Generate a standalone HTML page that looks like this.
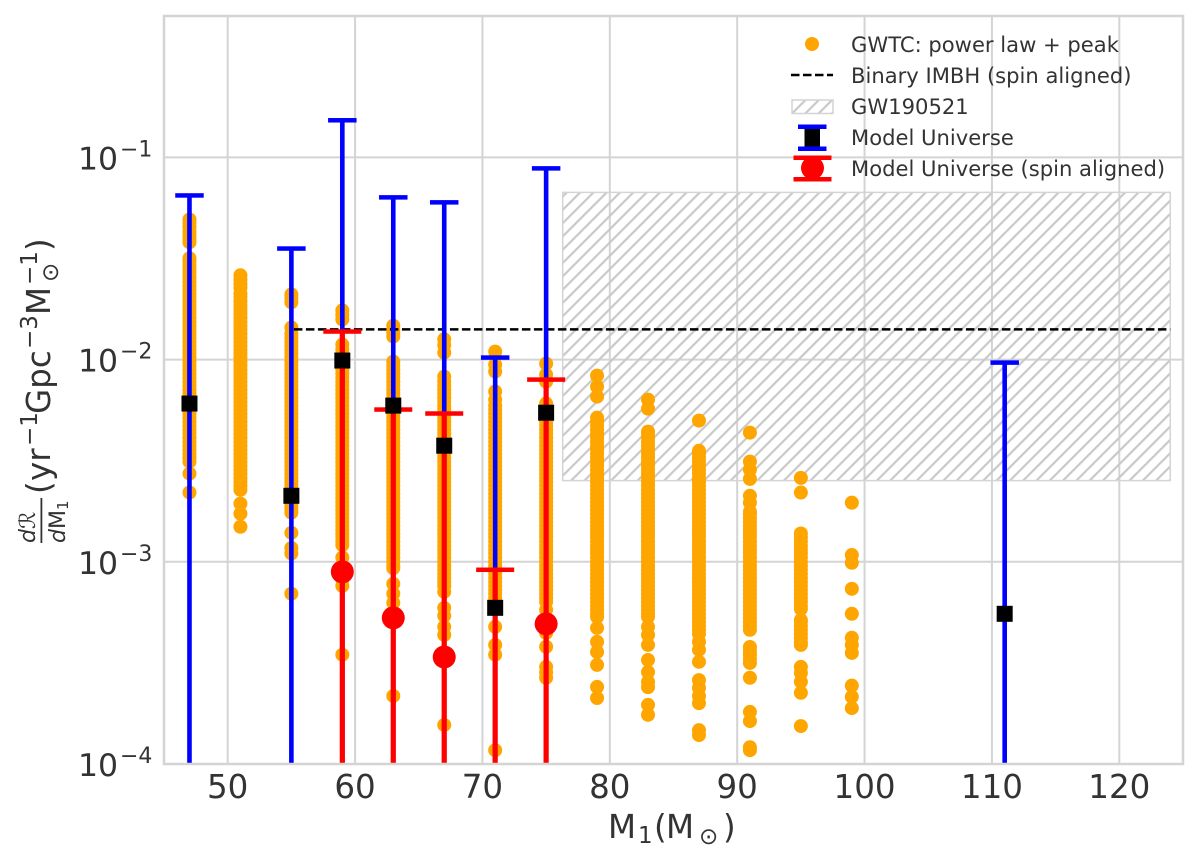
<!DOCTYPE html>
<html lang="en">
<head>
<meta charset="utf-8">
<title>Merger rate vs primary mass</title>
<style>
html,body{margin:0;padding:0;background:#fff;}
svg{display:block;}
text{font-family:"DejaVu Sans","Liberation Sans",sans-serif;fill:#333;}
</style>
</head>
<body>
<svg id="chart" xmlns="http://www.w3.org/2000/svg" width="1200" height="863" viewBox="0 0 1200 863">
  <defs>
    <pattern id="hatch" patternUnits="userSpaceOnUse" width="9.4" height="9.4" patternTransform="rotate(-45)">
      <rect x="0" y="0" width="9.4" height="2.2" fill="#c9c9c9"/>
    </pattern>
    <clipPath id="plot-clip"><rect x="164" y="16" width="1019" height="747"/></clipPath>
  </defs>
  <rect x="164" y="16" width="1019" height="748" fill="#fff"/>
  <g id="grid"></g>
  <g id="band"></g>
  <g id="scatter" clip-path="url(#plot-clip)"></g>
  <g id="imbh"></g>
  <g id="bars" clip-path="url(#plot-clip)"></g>
  <rect x="164" y="16" width="1019" height="748" fill="none" stroke="#d4d4d4" stroke-width="2.5"/>
  <g id="ticks"></g>

  <g>
    <text x="608" y="838" font-size="32.5">M</text>
    <text x="638" y="843" font-size="23">1</text>
    <text x="654" y="838" font-size="32.5">(</text>
    <text x="666" y="838" font-size="32.5">M</text>
    <text x="699" y="844" font-size="23">⊙</text>
    <text x="723" y="838" font-size="32.5">)</text>
  </g>

  <g transform="translate(50,0) rotate(-90)">
    <text x="-543" y="-15" font-size="22" font-style="italic">dℛ</text>
    <rect x="-543" y="-9.5" width="45" height="1.8" fill="#333"/>
    <text x="-543" y="15" font-size="22" font-style="italic">d<tspan font-style="normal">M</tspan></text>
    <text x="-510" y="18" font-size="15">1</text>
    <text x="-494" y="0" font-size="32.5">(</text>
    <text x="-481" y="0" font-size="32.5">yr</text>
    <text x="-446" y="-13" font-size="23">−1</text>
    <text x="-414" y="0" font-size="32.5">Gpc</text>
    <text x="-349" y="-13" font-size="23">−3</text>
    <text x="-315" y="0" font-size="32.5">M</text>
    <text x="-285" y="-13" font-size="23">−1</text>
    <text x="-282" y="8" font-size="23">⊙</text>
    <text x="-251" y="0" font-size="32.5">)</text>
  </g>

  <g>
    <g>
      <circle cx="812" cy="44" r="7" fill="#ffa500"/>
      <text x="851" y="52" font-size="21.1">GWTC: power law + peak</text>
    </g>
    <g>
      <line x1="791" x2="833" y1="75" y2="75" stroke="#000" stroke-width="2.5" stroke-dasharray="8.5 3.5"/>
      <text x="851" y="83" font-size="21.1">Binary IMBH (spin aligned)</text>
    </g>
    <g>
      <rect x="792" y="100" width="41" height="13.5" fill="url(#hatch)" stroke="#d4d4d4" stroke-width="1.5"/>
      <text x="851" y="114" font-size="21.1">GW190521</text>
    </g>
    <g>
      <rect x="804.5" y="126" width="15.5" height="22" fill="#000"/>
      <rect x="798" y="124.5" width="28.5" height="4.5" fill="#0000ff"/>
      <rect x="798" y="146.5" width="28.5" height="4.5" fill="#0000ff"/>
      <text x="851" y="145" font-size="21.1">Model Universe</text>
    </g>
    <g>
      <rect x="793.5" y="155.5" width="38" height="4.5" fill="#ff0000"/>
      <rect x="793.5" y="177" width="38" height="4.5" fill="#ff0000"/>
      <circle cx="812.5" cy="168" r="11.5" fill="#ff0000"/>
      <text x="851" y="176" font-size="21.1">Model Universe (spin aligned)</text>
    </g>
  </g>
</svg>

<script>
// ---- tick labels ----
const xTicks = [50, 60, 70, 80, 90, 100, 110, 120];
const yTicks = [0.1, 0.01, 0.001, 0.0001];
const yTickExponents = ["−1", "−2", "−3", "−4"];

// ---- axis limits ----
const xDomain = [45, 125];
const yDomain = [0.0001, 0.5];

// ---- GWTC power law + peak, rate samples per mass bin ----
const gwtcMasses = [47, 51, 55, 59, 63, 67, 71, 75, 79, 83, 87, 91, 95, 99];
const gwtc47 = [.0493,.0472,.0451,.043,.0411,.0395,.038,.0317,.0306,.0292,.0279,.0267,.0255,.0243,.0232,.0222,.0212,.0203,.0194,.0185,.0177,.0169,.0161,.0154,.0147,.0141,.01345,.01285,.01228,.01173,.01121,.0107,.01023,.00977,.00934,.00892,.00853,.00815,.00778,.00743,.0071,.00678,.00648,.00619,.00592,.00565,.0054,.00516,.00493,.00471,.0045,.0043,.00411,.00392,.00375,.00358,.00342,.00327,.00313,.00273,.0022];
const gwtc51 = [.0261,.0249,.0237,.0227,.0212,.0203,.0194,.0185,.0177,.0169,.0161,.0154,.0147,.0141,.01345,.01285,.01228,.01173,.01121,.0107,.01023,.00977,.00934,.00892,.00853,.00815,.00778,.00743,.0071,.00678,.00648,.00619,.00592,.00565,.0054,.00516,.00493,.00471,.0045,.0043,.00411,.00392,.00375,.00358,.00342,.00327,.00313,.00299,.00285,.00273,.0026,.00249,.00238,.00227,.00194,.00173,.00149];
const gwtc55 = [.021,.02,.0192,.0144,.01345,.01285,.01228,.01173,.01121,.0107,.01023,.00977,.00934,.00892,.00853,.00815,.00778,.00743,.0071,.00678,.00648,.00619,.00592,.00565,.0054,.00516,.00493,.00471,.0045,.0043,.00411,.00392,.00375,.00358,.00342,.00327,.00313,.00299,.00285,.00273,.0026,.00249,.00238,.00227,.00217,.00207,.00198,.00189,.00181,.00175,.00139,.00117,.0011,.000695];
const gwtc59 = [.0175,.0166,.0158,.01186,.01121,.0107,.01023,.00977,.00934,.00892,.00853,.00815,.00778,.00743,.0071,.00678,.00648,.00619,.00592,.00565,.0054,.00516,.00493,.00471,.0045,.0043,.00411,.00392,.00375,.00358,.00342,.00327,.00313,.00299,.00285,.00273,.0026,.00249,.00238,.00227,.00217,.00207,.00198,.00189,.00181,.00173,.00165,.00158,.00151,.00144,.00138,.00132,.00126,.00121,.00105,.000955,.000892,.000815,.00076,.000347];
const gwtc63 = [.0147,.014,.0135,.013,.00977,.00934,.00892,.00853,.00815,.00778,.00743,.0071,.00678,.00648,.00619,.00592,.00565,.0054,.00516,.00493,.00471,.0045,.0043,.00411,.00392,.00375,.00358,.00342,.00327,.00313,.00299,.00285,.00273,.0026,.00249,.00238,.00227,.00217,.00207,.00198,.00189,.00181,.00173,.00165,.00158,.00151,.00144,.00138,.00132,.00126,.0012,.00115,.0011,.00105,.001,.000955,.00093,.000778,.000695,.000627,.000566,.000217];
const gwtc67 = [.0126,.0118,.01083,.00824,.00778,.00743,.0071,.00678,.00648,.00619,.00592,.00565,.0054,.00516,.00493,.00471,.0045,.0043,.00411,.00392,.00375,.00358,.00342,.00327,.00313,.00299,.00285,.00273,.0026,.00249,.00238,.00227,.00217,.00207,.00198,.00189,.00181,.00173,.00165,.00158,.00151,.00144,.00138,.00132,.00126,.0012,.00115,.0011,.00105,.001,.000955,.000913,.000872,.000833,.000796,.00076,.00071,.000592,.000541,.000477,.000435,.000156];
const gwtc71 = [.01095,.00944,.00873,.00695,.00633,.00592,.00565,.0054,.00516,.00493,.00471,.0045,.0043,.00411,.00392,.00375,.00358,.00342,.00327,.00313,.00299,.00285,.00273,.0026,.00249,.00238,.00227,.00217,.00207,.00198,.00189,.00181,.00173,.00165,.00158,.00151,.00144,.00138,.00132,.00126,.0012,.00115,.0011,.00105,.001,.000955,.000913,.000872,.000833,.000796,.00076,.000727,.000695,.000663,.000634,.000613,.000477,.000388,.000347,.000117];
const gwtc75 = [.00955,.00843,.00778,.00606,.0054,.00516,.00493,.00471,.0045,.0043,.00411,.00392,.00375,.00358,.00342,.00327,.00313,.00299,.00285,.00273,.0026,.00249,.00238,.00227,.00217,.00207,.00198,.00189,.00181,.00173,.00165,.00158,.00151,.00144,.00138,.00132,.00126,.0012,.00115,.0011,.00105,.001,.000955,.000913,.000872,.000833,.000796,.00076,.000727,.000695,.000663,.000634,.000579,.000445,.00038,.000302,.000284,.000267];
const gwtc79 = [.00833,.00735,.00656,.00516,.00493,.00471,.0045,.0043,.00411,.00392,.00375,.00358,.00342,.00327,.00313,.00299,.00285,.00273,.0026,.00249,.00238,.00227,.00217,.00207,.00198,.00189,.00181,.00173,.00165,.00158,.00151,.00144,.00138,.00132,.00126,.0012,.00115,.0011,.00105,.001,.000955,.000913,.000872,.000833,.000796,.00076,.000727,.000695,.000663,.000634,.000606,.000579,.000553,.000534,.000471,.000402,.000358,.000309,.0002405,.000212];
const gwtc83 = [.00634,.00572,.0044,.0043,.00411,.00392,.00375,.00358,.00342,.00327,.00313,.00299,.00285,.00273,.0026,.00249,.00238,.00227,.00217,.00207,.00198,.00189,.00181,.00173,.00165,.00158,.00151,.00144,.00138,.00132,.00126,.0012,.00115,.0011,.00105,.001,.000955,.000913,.000872,.000833,.000796,.00076,.000727,.000695,.000663,.000634,.000606,.000579,.000553,.000534,.000477,.000435,.000388,.000327,.000285,.000255,.00024,.000196,.000175];
const gwtc87 = [.00499,.00354,.00342,.00327,.00313,.00299,.00285,.00273,.0026,.00249,.00238,.00227,.00217,.00207,.00198,.00189,.00181,.00173,.00165,.00158,.00151,.00144,.00138,.00132,.00126,.0012,.00115,.0011,.00105,.001,.000955,.000913,.000872,.000833,.000796,.00076,.000727,.000695,.000663,.000634,.000606,.000579,.000553,.000528,.000505,.000482,.000461,.00044,.000402,.000367,.00032,.00026,.000238,.000217,.0002,.000147,.000139];
const gwtc91 = [.00435,.00313,.00285,.00257,.00212,.00196,.00177,.00173,.00165,.00158,.00151,.00144,.00138,.00132,.00126,.0012,.00115,.0011,.00105,.001,.000955,.000913,.000872,.000833,.000796,.00076,.000727,.000695,.000663,.000634,.000606,.000579,.000553,.000528,.000505,.000482,.000461,.000379,.000362,.000347,.00033,.000316,.000267,.000181,.000163,.000121,.000117];
const gwtc95 = [.0026,.0022,.00138,.00132,.00126,.0012,.00115,.0011,.00105,.001,.000955,.000913,.000872,.000833,.000796,.00076,.000727,.000695,.000663,.000634,.000606,.000585,.000515,.000505,.000482,.000461,.00044,.00042,.0004,.000388,.000302,.000282,.000255,.000225,.000154];
const gwtc99 = [.00196,.00108,.000989,.000735,.000553,.000421,.000388,.000354,.000244,.000215,.000189];
const gwtcSeries = [gwtc47, gwtc51, gwtc55, gwtc59, gwtc63, gwtc67, gwtc71, gwtc75, gwtc79, gwtc83, gwtc87, gwtc91, gwtc95, gwtc99];

// ---- Model Universe ----
const modelMasses = [47, 55, 59, 63, 67, 71, 75, 111];
const modelRates = [.00606, .00212, .00989, .00592, .00375, .000592, .00546, .000553];
const modelUpper = [.0648, .0354, .1525, .0634, .0599, .01023, .0882, .00966];
const modelLower = [.00006, .00006, .00006, .00006, .00006, .00006, .00006, .00006];

// ---- Model Universe (spin aligned) ----
const spinMasses = [59, 63, 67, 71, 75];
const spinRates = [.000892, .000528, .000338, .00006, .000493];
const spinUpper = [.01376, .00566, .00541, .000913, .00796];
const spinLower = [.00006, .00006, .00006, .00006, .00006];

// ---- Binary IMBH and GW190521 ----
const imbhRate = [.0141];
const imbhMassRange = [55.2, 124];
const gw190521MassRange = [76.3, 124];
const gw190521RateRange = [.00252, .0671];

function xScale(m) {
  return 164 + (m - xDomain[0]) / (xDomain[1] - xDomain[0]) * 1019;
}
function yScale(v) {
  const lo = Math.log10(yDomain[0]);
  const hi = Math.log10(yDomain[1]);
  return 764 - (Math.log10(v) - lo) / (hi - lo) * 748;
}
function make(tag, attrs, parent) {
  const el = document.createElementNS('http://www.w3.org/2000/svg', tag);
  for (const k in attrs) el.setAttribute(k, attrs[k]);
  parent.appendChild(el);
  return el;
}

const gridG = document.getElementById('grid');
const bandG = document.getElementById('band');
const scatterG = document.getElementById('scatter');
const imbhG = document.getElementById('imbh');
const barsG = document.getElementById('bars');
const ticksG = document.getElementById('ticks');

xTicks.forEach(function (t) {
  const line = make('line', {x1: xScale(t), x2: xScale(t), y1: 16, y2: 764, stroke: '#d4d4d4', 'stroke-width': 2}, gridG);
  
  
  const label = make('text', {x: xScale(t), y: 798, 'font-size': 32.5, 'text-anchor': 'middle'}, ticksG);
  label.textContent = String(t);
  
  
});

yTicks.forEach(function (t, i) {
  const y = yScale(t);
  const line = make('line', {x1: 164, x2: 1183, y1: y, y2: y, stroke: '#d4d4d4', 'stroke-width': 2}, gridG);
  
  
  const base = make('text', {x: 78, y: y + 12, 'font-size': 31.5}, ticksG);
  base.textContent = '10';
  
  
  const sup = make('text', {x: 120, y: y - 1, 'font-size': 22}, ticksG);
  sup.textContent = yTickExponents[i];
  
  
});

const bx0 = xScale(gw190521MassRange[0]);
const bx1 = xScale(gw190521MassRange[1]);
const by0 = yScale(gw190521RateRange[1]);
const by1 = yScale(gw190521RateRange[0]);
const bandRect = make('rect', {x: bx0, y: by0, width: bx1 - bx0, height: by1 - by0, fill: 'url(#hatch)', stroke: '#d4d4d4', 'stroke-width': 1.5}, bandG);



gwtcSeries.forEach(function (series, i) {
  series.forEach(function (v) {
    const dot = make('circle', {cx: xScale(gwtcMasses[i]), cy: yScale(v), r: 7, fill: '#ffa500'}, scatterG);
    
    
  });
});

const imbhLine = make('line', {
  x1: xScale(imbhMassRange[0]), x2: xScale(imbhMassRange[1]),
  y1: yScale(imbhRate[0]), y2: yScale(imbhRate[0]),
  stroke: '#000', 'stroke-width': 2.5, 'stroke-dasharray': '8.5 3.5'
}, imbhG);



function errorBar(m, upper, lower, color, capW, stemW, name) {
  const x = xScale(m);
  const stem = make('line', {x1: x, x2: x, y1: yScale(upper), y2: yScale(lower), stroke: color, 'stroke-width': stemW}, barsG);
  
  
  const cap = make('rect', {x: x - capW / 2, y: yScale(upper) - 2.25, width: capW, height: 4.5, fill: color}, barsG);
  
  
}

modelMasses.forEach(function (m, i) {
  errorBar(m, modelUpper[i], modelLower[i], '#0000ff', 28.5, 4.6, 'model-universe');
});
spinMasses.forEach(function (m, i) {
  errorBar(m, spinUpper[i], spinLower[i], '#ff0000', 38, 5.2, 'spin-aligned');
});
spinMasses.forEach(function (m, i) {
  const c = make('circle', {cx: xScale(m), cy: yScale(spinRates[i]), r: 11.5, fill: '#ff0000'}, barsG);
  
  
});
modelMasses.forEach(function (m, i) {
  const s = make('rect', {x: xScale(m) - 8, y: yScale(modelRates[i]) - 8, width: 16, height: 16, fill: '#000'}, barsG);
  
  
});
</script>
</body>
</html>
